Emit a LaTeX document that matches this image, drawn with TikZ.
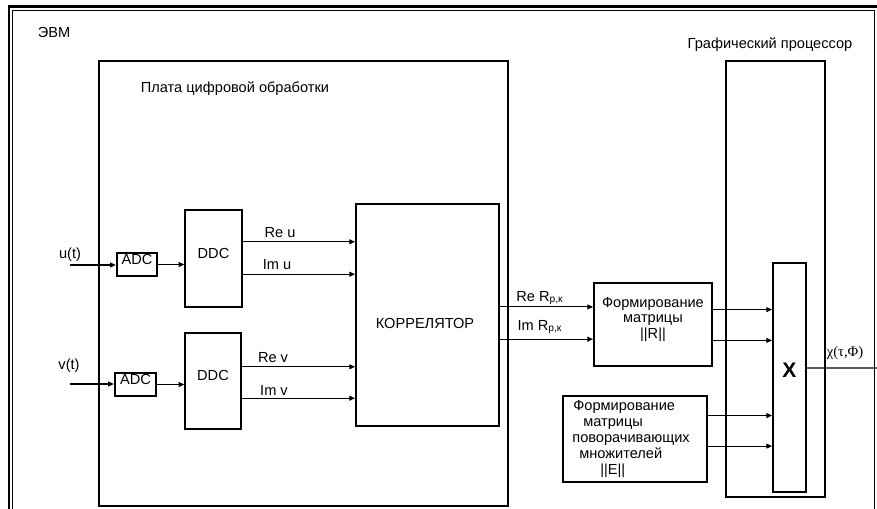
\documentclass[tikz,border=0pt]{standalone}
\usepackage{fontspec}
\setmainfont{Liberation Sans}
\newfontfamily\grekfont{Liberation Serif}
\usetikzlibrary{arrows.meta,fit,calc}
\tikzset{
    blok/.style={draw, line width=1.1pt, inner sep=0pt},
    ddcblok/.style={draw, line width=0.75pt, inner sep=0pt},
    adcblok/.style={draw, line width=1.4pt, inner sep=0pt},
    % 信号箭头
    signal/.style={
        line width=0.6pt,
        ->,
        >={Triangle[length=3.2pt, width=2.8pt]}
    }
}

\begin{document}
\begin{tikzpicture}[x=0.02cm, y=-0.02cm, font=\fontsize{8.3}{8.6}\selectfont]
            \useasboundingbox (0,0) rectangle (877,509);

            % 外框
            \draw[line width=1.7pt] (9,509) -- (9,7) -- (877,7);
            \draw[line width=0.5pt] (12.5,509) -- (12.5,10.5) -- (874,10.5) -- (874,509);
            \node (evm) at (54,32) {ЭВМ};

            % 板
            \node[blok, fit={(99,61) (508,506)}] (plata) {};
            \node (platatxt) at (235,89) {Плата цифровой обработки};
            \node[blok, fit={(726,61) (825,497)}] (gpu) {};
            \node (gputxt) at (770,45) {Графический процессор};

            % blocks
            \node[adcblok, fit={(117,253) (157,276)}] (adcu) {ADC};
            \node[adcblok, fit={(115,373) (156,396)}] (adcv) {ADC};
            \node[ddcblok, fit={(185,210) (242,307)}] (ddcu) {DDC};
            \node[ddcblok, fit={(185,333) (241,429)}] (ddcv) {DDC};
            \node[blok, fit={(356,204) (499,426)}] (korr) {};
            \node (korrtxt) at (425,323) {КОРРЕЛЯТОР};
            \node[blok, fit={(594,283) (712,366)}, align=center] (rform) {Формирование\\матрицы\\||R||};
            \node[blok, fit={(563,396) (707,482)}] (eform) {};
            \node[align=left, anchor=west, inner sep=0pt, font=\fontsize{8.3}{9.2}\selectfont] (eformtxt) at (572,439)
                {\hspace*{0.02cm}Формирование\\\hspace*{0.22cm}матрицы\\поворачивающих\\\hspace*{0.14cm}множителей\\\hspace*{0.56cm}||E||};
            \node[blok, fit={(773,263) (806,492)}, font=\fontsize{12}{14}\selectfont\bfseries] (umn) {X};

            % 输入
            \coordinate (uin) at (70,265);
            \coordinate (vin) at (70,384);
            \draw[signal] (uin) -- (uin -| adcu.west);
            \draw[signal] (adcu.east) -- (adcu.east -| ddcu.west);
            \draw[signal] (vin) -- (vin -| adcv.west);
            \draw[signal] (adcv.east) -- (adcv.east -| ddcv.west);
            \node (ut) at (70,255) {u(t)};
            \node (vt) at (69,366) {v(t)};

            % DDC -> КОРРЕЛЯТОР
            \coordinate (reu) at ($(ddcu.north east)!0.33!(ddcu.south east)$);
            \coordinate (imu) at ($(ddcu.north east)!0.66!(ddcu.south east)$);
            \coordinate (rev) at ($(ddcv.north east)!0.354!(ddcv.south east)$);
            \coordinate (imv) at ($(ddcv.north east)!0.677!(ddcv.south east)$);
            \draw[signal] (reu) -- (reu -| korr.west);
            \draw[signal] (imu) -- (imu -| korr.west);
            \draw[signal] (rev) -- (rev -| korr.west);
            \draw[signal] (imv) -- (imv -| korr.west);
            \node (reutxt) at (280,233) {Re u};
            \node (imutxt) at (277,265) {Im u};
            \node (revtxt) at (273,358) {Re v};
            \node (imvtxt) at (274,390) {Im v};

            % КОРРЕЛЯТОР -> ||R||
            \coordinate (rer) at ($(korr.north east)!0.464!(korr.south east)$);
            \coordinate (imr) at ($(korr.north east)!0.608!(korr.south east)$);
            \draw[signal] (rer) -- (rer -| rform.west);
            \draw[signal] (imr) -- (imr -| rform.west);
            \node (rertxt) at (540,298) {Re R\textsubscript{p,к}};
            \node (imrtxt) at (540,327) {Im R\textsubscript{p,к}};

            % -> X
            \coordinate (r1) at ($(rform.north east)!0.325!(rform.south east)$);
            \coordinate (r2) at ($(rform.north east)!0.687!(rform.south east)$);
            \coordinate (e1) at ($(eform.north east)!0.233!(eform.south east)$);
            \coordinate (e2) at ($(eform.north east)!0.581!(eform.south east)$);
            \draw[signal] (r1) -- (r1 -| umn.west);
            \draw[signal] (r2) -- (r2 -| umn.west);
            \draw[signal] (e1) -- (e1 -| umn.west);
            \draw[signal] (e2) -- (e2 -| umn.west);

            % 输出
            \coordinate (vyh) at ($(umn.north east)!0.459!(umn.south east)$);
            \coordinate (kraj) at (877,368);
            \draw[line width=0.6pt] (vyh) -- (kraj);
            \node (chitxt) at (845,353) {\grekfont χ(τ,Φ)};
        \end{tikzpicture}
\end{document}
